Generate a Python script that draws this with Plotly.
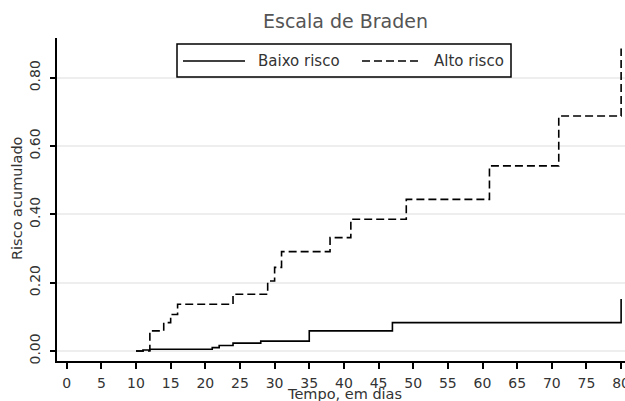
import plotly.graph_objects as go

# Data (cumulative risk step functions)
tempo_baixo = [10, 11, 12, 21, 22, 24, 28, 35, 47, 80]
risco_baixo = [0.0, 0.003, 0.005, 0.010, 0.016, 0.023, 0.029, 0.059, 0.083, 0.152]

tempo_alto = [10, 12, 14, 15, 16, 24, 29, 30, 31, 38, 41, 49, 61, 71, 80]
risco_alto = [0.0, 0.059, 0.083, 0.107, 0.137, 0.166, 0.205, 0.245, 0.291,
              0.332, 0.386, 0.444, 0.542, 0.688, 0.886]

y_ticks = [0.0, 0.2, 0.4, 0.6, 0.8]
x_ticks = list(range(0, 81, 5))

FONT = "DejaVu Sans"
W, H = 625, 401
# plot area in screenshot pixels: x 57..625, y 38..361
L, T, R, B = 57, 38, 0, 401 - 361
PW, PH = W - L - R, H - T - B

def px(xs):
    return (xs - L) / PW

def py(ys):
    return (H - B - ys) / PH

fig = go.Figure()
fig.add_trace(go.Scatter(x=tempo_baixo, y=risco_baixo, mode="lines", line_shape="hv",
                         line=dict(color="black", width=1.6), name="Baixo risco",
                         showlegend=False, cliponaxis=False))
fig.add_trace(go.Scatter(x=tempo_alto, y=risco_alto, mode="lines", line_shape="hv",
                         line=dict(color="black", width=1.6, dash="8px,4px"),
                         name="Alto risco", showlegend=False, cliponaxis=False))

shapes = [
    dict(type="rect", xref="paper", yref="paper", x0=px(177), x1=px(511), y0=py(77), y1=py(44),
         line=dict(color="black", width=1.5), fillcolor="white", layer="above"),
    dict(type="line", xref="paper", yref="paper", x0=px(183), x1=px(245), y0=py(61), y1=py(61),
         line=dict(color="black", width=1.6), layer="above"),
    dict(type="line", xref="paper", yref="paper", x0=px(362), x1=px(421), y0=py(61), y1=py(61),
         line=dict(color="black", width=1.6, dash="8px,4px"), layer="above"),
]

annotations = [
    dict(text="Escala de Braden", xref="paper", yref="paper", x=px(345), y=py(21),
         xanchor="center", yanchor="middle", showarrow=False,
         font=dict(family=FONT, size=19, color="#555555")),
    dict(text="Baixo risco", xref="paper", yref="paper", x=px(256), y=py(61),
         xanchor="left", yanchor="middle", showarrow=False,
         font=dict(family=FONT, size=15, color="#333333")),
    dict(text="Alto risco", xref="paper", yref="paper", x=px(432), y=py(61),
         xanchor="left", yanchor="middle", showarrow=False,
         font=dict(family=FONT, size=15, color="#333333")),
    dict(text="Tempo, em dias", xref="paper", yref="paper", x=px(344), y=py(394),
         xanchor="center", yanchor="middle", showarrow=False,
         font=dict(family=FONT, size=14.5, color="#333333")),
    dict(text="Risco acumulado", xref="paper", yref="paper", x=px(17), y=py(198),
         xanchor="center", yanchor="middle", showarrow=False, textangle=-90,
         font=dict(family=FONT, size=14.5, color="#333333")),
]

fig.update_layout(
    width=W, height=H,
    margin=dict(l=L, r=R, t=T, b=B, pad=0, autoexpand=False),
    paper_bgcolor="white", plot_bgcolor="white",
    shapes=shapes, annotations=annotations,
    showlegend=False,
    xaxis=dict(range=[-1.40, 80.56], tickvals=x_ticks, ticktext=[str(v) for v in x_ticks],
               automargin=False, ticklabeloverflow="allow", ticklabelstandoff=2,
               showgrid=False, zeroline=False, showline=True, linecolor="black", linewidth=1.6,
               ticks="outside", ticklen=6, tickwidth=1.5, tickcolor="black",
               tickfont=dict(family=FONT, size=14, color="#333333")),
    yaxis=dict(range=[-0.0293, 0.9166], tickvals=y_ticks, ticktext=[f"{v:.2f}" for v in y_ticks],
               tickangle=-90, automargin=False, ticklabelstandoff=5,
               showgrid=True, gridcolor="#eeeeee", gridwidth=1.5, zeroline=False,
               showline=True, linecolor="black", linewidth=1.6,
               ticks="outside", ticklen=5, tickwidth=1.5, tickcolor="black",
               tickfont=dict(family=FONT, size=14, color="#333333")),
)

fig.write_html(
    "out.html",
    config={"displayModeBar": False},
    post_script="document.body.style.margin='0';document.body.style.overflow='hidden';",
)
